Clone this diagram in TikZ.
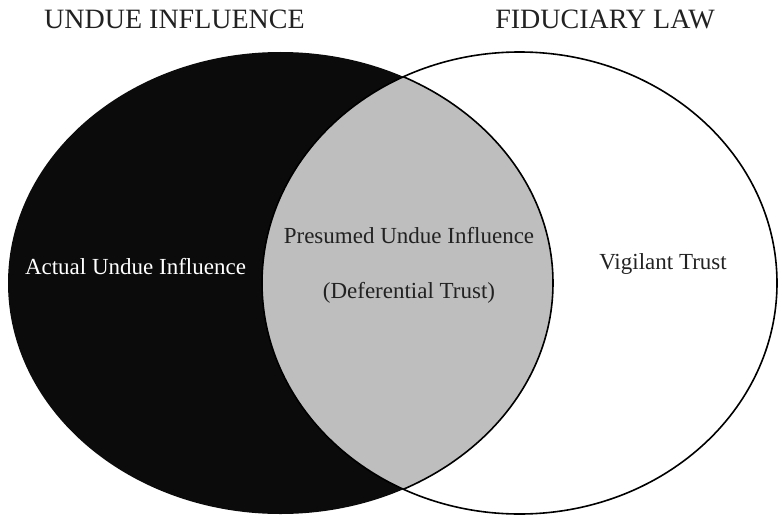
\documentclass[tikz,border=0pt]{standalone}
\usepackage{fontspec}
\setmainfont{Liberation Serif}
\usetikzlibrary{positioning}
\definecolor{inkdark}{HTML}{0B0B0B}
\definecolor{lensgrey}{HTML}{BEBEBE}
\definecolor{textgrey}{HTML}{222222}
\def\leftset{(280.5, 283) ellipse [x radius=272.5pt, y radius=231pt]}
\def\rightset{(519.5, 283) ellipse [x radius=257.5pt, y radius=231pt]}

\begin{document}
\begin{tikzpicture}[x=1pt, y=-1pt,
		title/.style={inner sep=0, anchor=base, text=textgrey, font=\fontsize{28}{32}\selectfont},
		label/.style={inner sep=0, anchor=base, text=textgrey, font=\fontsize{23}{27}\selectfont}]
			%%%%% START %%%%%
			
			\useasboundingbox (0, 0) rectangle (778, 516);
			
			\fill[color=inkdark] \leftset;
			\begin{scope}
				\clip \leftset;
				\fill[color=lensgrey] \rightset;
			\end{scope}
			\draw[line width=1.6pt] \rightset;
			\begin{scope}
				\clip \rightset;
				\draw[line width=1.6pt] \leftset;
			\end{scope}
			
			\node[title] (undue) at (174.5, 29) {UNDUE INFLUENCE};
			\node[title] (fiduciary) at (605, 29) {FIDUCIARY LAW};
			
			\node[label, text=white] (actual) at (135.5, 274) {Actual Undue Influence};
			\node[label] (presumed) at (409, 243) {Presumed Undue Influence};
			\node[label] (deferential) at (409, 298) {(Deferential Trust)};
			\node[label] (vigilant) at (663, 269) {Vigilant Trust};
			
			%%%%% END %%%%%
		\end{tikzpicture}
\end{document}
